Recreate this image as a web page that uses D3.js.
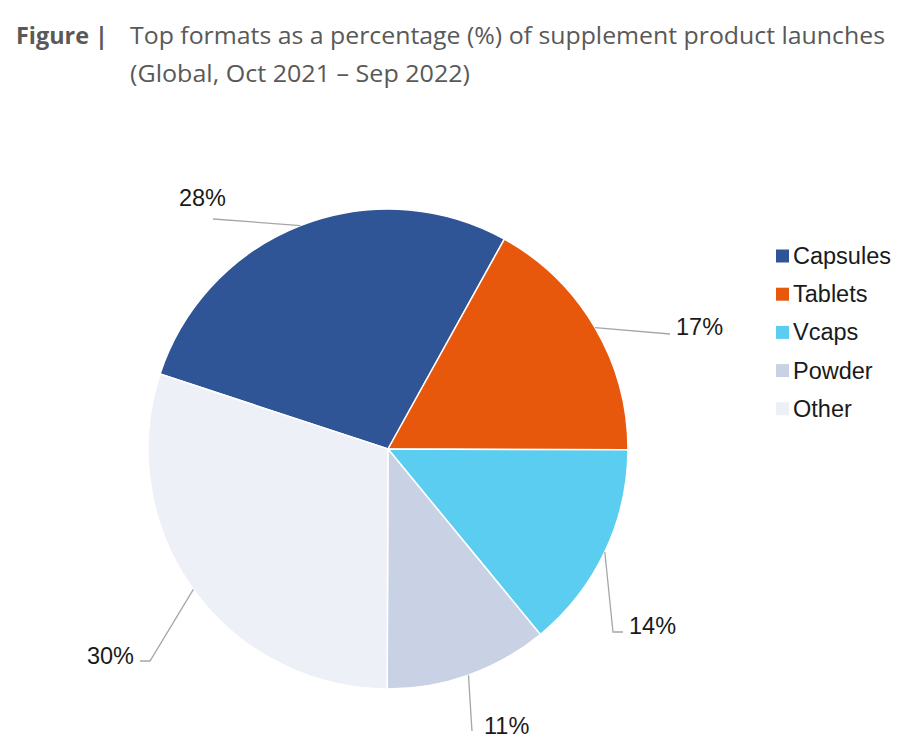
<!DOCTYPE html>
<html><head><meta charset="utf-8">
<script src="https://cdn.jsdelivr.net/npm/d3@7/dist/d3.min.js"></script>
<style>body{margin:0;background:#fff}svg{display:block}</style>
</head><body>
<svg id="chart" width="900" height="756"></svg>
<script>
const categories = ["Capsules", "Tablets", "Vcaps", "Powder", "Other"];
const values = [28, 17, 14, 11, 30];
const valueLabels = ["28%", "17%", "14%", "11%", "30%"];
const colors = ["#2F5597", "#E8580C", "#5BCDF0", "#C9D2E4", "#EEF0F7"];

// layout of labels (leader end points and text anchors)
const labelLayout = [
  {pts: [[213, 219]], tx: 226, ty: 206, anchor: "end"},
  {pts: [[670, 334]], tx: 676, ty: 335, anchor: "start"},
  {pts: [[613, 632], [623, 632]], tx: 629, ty: 634, anchor: "start"},
  {pts: [[472, 731]], tx: 484, ty: 734, anchor: "start"},
  {pts: [[150, 661], [140, 661]], tx: 134, ty: 664, anchor: "end"}
];

const svg = d3.select("#chart");

// Title
const titleG = svg.append("g").attr("font-family", "'Open Sans', sans-serif").attr("fill", "#595959");
titleG.append("text").attr("x", 16).attr("y", 44).attr("font-size", 23).attr("font-weight", "bold")
  .attr("textLength", 92).attr("lengthAdjust", "spacingAndGlyphs").text("Figure |");
titleG.append("text").attr("x", 130).attr("y", 44).attr("font-size", 24)
  .attr("textLength", 755).attr("lengthAdjust", "spacingAndGlyphs")
  .text("Top formats as a percentage (%) of supplement product launches");
titleG.append("text").attr("x", 130).attr("y", 82).attr("font-size", 24)
  .attr("textLength", 340).attr("lengthAdjust", "spacingAndGlyphs")
  .text("(Global, Oct 2021 \u2013 Sep 2022)");

// Pie
const cx = 388, cy = 449, r = 240;
const total = d3.sum(values);
const startAngle = -(values[0] / total) * 2 * Math.PI + 29 * Math.PI / 180;
const pie = d3.pie().sort(null).value(d => d).startAngle(startAngle).endAngle(startAngle + 2 * Math.PI);
const arcs = pie(values);
const arc = d3.arc().innerRadius(0).outerRadius(r);
const g = svg.append("g").attr("transform", `translate(${cx},${cy})`);
g.selectAll("path.slice").data(arcs).join("path")
  .attr("class", "slice")
  .attr("d", arc)
  .attr("fill", (d, i) => colors[i])
  .attr("stroke", "#fff").attr("stroke-width", 1.5).attr("stroke-linejoin", "round");

// Leader lines and labels
const edge = d3.arc().innerRadius(r).outerRadius(r);
arcs.forEach((d, i) => {
  const c = edge.centroid(d);
  const L = labelLayout[i];
  const pts = [[cx + c[0], cy + c[1]]].concat(L.pts);
  svg.append("path").attr("d", d3.line()(pts))
    .attr("fill", "none").attr("stroke", "#A6A6A6").attr("stroke-width", 1.3);
  svg.append("text").attr("x", L.tx).attr("y", L.ty).attr("text-anchor", L.anchor)
    .attr("font-family", "'Liberation Sans', Arial, sans-serif").attr("font-size", 23.5)
    .attr("fill", "#1a1a1a").text(valueLabels[i]);
});

// Legend
const leg = svg.append("g").attr("transform", "translate(776,256)");
const rows = leg.selectAll("g").data(categories).join("g")
  .attr("transform", (d, i) => `translate(0,${i * 38.2})`);
rows.append("rect").attr("x", 0).attr("y", -6.5).attr("width", 13).attr("height", 13)
  .attr("fill", (d, i) => colors[i]);
rows.append("text").attr("x", 17).attr("y", 8)
  .attr("font-family", "'Liberation Sans', Arial, sans-serif").attr("font-size", 23.5)
  .attr("fill", "#1a1a1a").text(d => d);
</script>
</body></html>
